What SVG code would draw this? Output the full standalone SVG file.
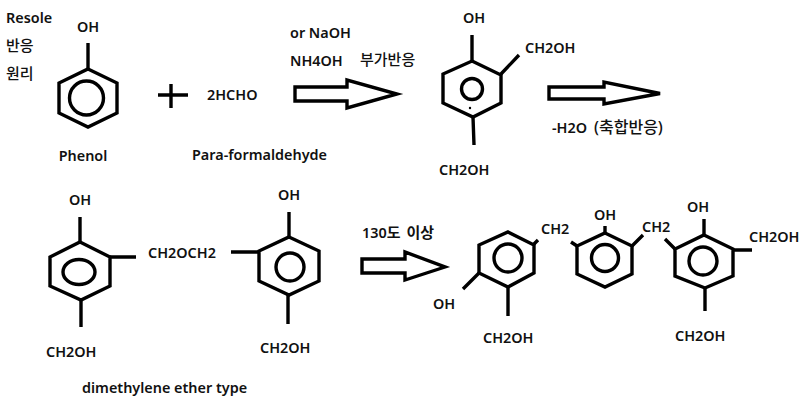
<svg xmlns="http://www.w3.org/2000/svg" width="800" height="400" viewBox="0 0 800 400">
<style>
text{font-family:"Noto Sans","Noto Sans CJK KR",sans-serif;font-size:14.4px;font-weight:600;fill:#111}
.m{text-anchor:middle}
.k{font-weight:500;font-size:15px}
.ring,.bond,.arrow{fill:none;stroke:#000;stroke-linejoin:miter}
.ring{stroke-width:3.4}
.bond{stroke-width:3.4}
.arrow{fill:#fff;stroke-width:3.4}
</style>
<rect width="800" height="400" fill="#fff"/>
<g id="title"><text x="6" y="23">Resole</text><text class="k" x="6" y="51">반응</text><text class="k" x="6" y="79">원리</text></g>
<g id="phenol">
<polygon class="ring" points="88,69 117,83 117,113 88,127 59,113 59,83"/><circle class="ring" cx="86.500" cy="98" r="17"/>
<line class="bond" x1="88" y1="43" x2="88" y2="69"/>
<text class="m" x="88" y="32">OH</text><text class="m" x="83" y="161">Phenol</text>
</g>
<g id="plus"><path class="bond" d="M158 95H188M171 84V108"/></g>
<g id="formaldehyde"><text x="207" y="100">2HCHO</text><text x="192" y="159.500">Para-formaldehyde</text></g>
<g id="condition1"><text x="290" y="38">or NaOH</text><text x="290" y="66">NH4OH</text><text class="k" x="360" y="65">부가반응</text></g>
<g id="adduct">
<polygon class="ring" points="472,61 501,75 501,103 473,117 443,103 443,74"/><circle class="ring" cx="472" cy="89" r="10.500"/><circle cx="470" cy="108" r="1.200"/>
<path class="bond" d="M472 35V61M501 74L519 55M473 117L474 145"/>
<text class="m" x="474" y="23">OH</text><text x="525" y="53">CH2OH</text><text x="439" y="175">CH2OH</text>
</g>
<g id="condition2"><text x="552" y="133">-H2O <tspan class="k" x="594" style="font-size:16px">(축합반응)</tspan></text></g>
<g id="ether-left">
<polygon class="ring" points="80,242 110,257 110,286 81,300 50,286 50,257"/><ellipse class="ring" cx="79" cy="272" rx="16" ry="12.500"/>
<path class="bond" d="M80 217V242M110 257H136M81 300V327"/>
<text class="m" x="80" y="205">OH</text><text x="46" y="357">CH2OH</text>
</g>
<g id="ether-link"><text x="148" y="258">CH2OCH2</text></g>
<g id="ether-right">
<polygon class="ring" points="289,237 319,251 319,281 289,295 259,281 259,251"/><circle class="ring" cx="290" cy="267" r="14"/>
<path class="bond" d="M289 212V237M231 252H259M288 295V324"/>
<text class="m" x="289" y="200">OH</text><text x="260" y="353">CH2OH</text>
</g>
<g id="ether-label"><text x="82" y="393">dimethylene ether type</text></g>
<g id="condition3"><text x="362" y="238" style="word-spacing:2px">130<tspan style="font-size:15px">도 이상</tspan></text></g>
<g id="product-a">
<polygon class="ring" points="508,232 534,245 534,273 508,287 479,273 479,245"/><circle class="ring" cx="508" cy="258" r="14"/>
<path class="bond" d="M534 244L538 240M479 273L463 289M508 287V316"/>
<text x="541" y="234">CH2</text><text x="433" y="309">OH</text><text x="483" y="343">CH2OH</text>
</g>
<g id="product-b">
<polygon class="ring" points="605,233 632,246 632,274 605,287 577,274 577,246"/><circle class="ring" cx="605" cy="258" r="13.500"/>
<path class="bond" d="M605 226V233M577 246L571 242M632 246L643 235"/>
<text class="m" x="605" y="220">OH</text><text x="642" y="232">CH2</text>
</g>
<g id="product-c">
<polygon class="ring" points="704,235 733,249 733,276 705,288 675,276 675,249"/><circle class="ring" cx="703" cy="261" r="14"/>
<path class="bond" d="M704 219V235M675 249L665 239M733 250H752M705 288V311"/>
<text class="m" x="698" y="212">OH</text><text x="749" y="242">CH2OH</text><text x="675" y="341">CH2OH</text>
</g>
<g id="connectors">
<polygon class="arrow" points="295,87 347,87 347,80 397,94 347,108 347,101 295,101"/>
<polygon class="arrow" points="549,87 604,87 604,82 660,93.500 604,104 604,99 549,99"/>
<polygon class="arrow" points="362,259 405,259 405,252 445,267 405,280 405,273 362,273"/>
</g>
</svg>
